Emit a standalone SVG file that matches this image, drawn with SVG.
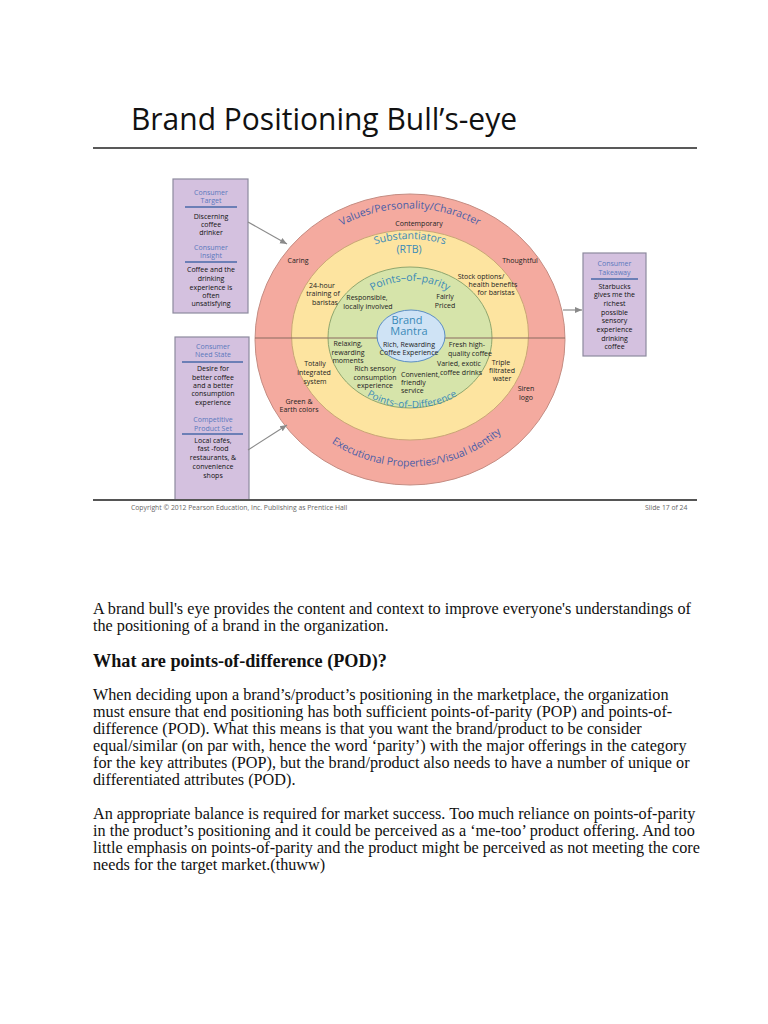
<svg xmlns="http://www.w3.org/2000/svg" width="768" height="1024" viewBox="0 0 768 1024">
<defs>
<style>
.lbl{font-family:"Open Sans","Liberation Sans",sans-serif;font-size:7px;fill:#222;text-anchor:middle}
.lbll{font-family:"Open Sans","Liberation Sans",sans-serif;font-size:7px;fill:#222;text-anchor:start}
.bx{font-family:"Open Sans","Liberation Sans",sans-serif;font-size:7px;fill:#111;text-anchor:middle}
.bh{font-family:"Open Sans","Liberation Sans",sans-serif;font-size:7px;fill:#5a78bd;text-anchor:middle}
.ring{font-family:"Open Sans","Liberation Sans",sans-serif;font-size:10.5px;fill:#4a5ea8}
.teal{font-family:"Open Sans","Liberation Sans",sans-serif;fill:#3a8ab8}
.body{font-family:"Liberation Serif","Times New Roman",serif;font-size:16.2px;fill:#111}
.box{fill:#d4c1df;stroke:#8d8a9e;stroke-width:1.2}
.uline{stroke:#4a68a8;stroke-width:1.5}
.conn{stroke:#8a8a8a;stroke-width:1.2;fill:none}
</style>
<marker id="ah" markerWidth="8" markerHeight="8" refX="7" refY="4" orient="auto" markerUnits="userSpaceOnUse">
<path d="M0,1 L7,4 L0,7 Z" fill="#8a8a8a"/>
</marker>
<path id="pValues" d="M272,339.5 A138,131 0 0 1 548,339.5"/>
<path id="pExec" d="M275,339.5 A135,127 0 0 0 545,339.5"/>
<path id="pSub" d="M305,335 A105,96 0 0 1 515,335"/>
<path id="pPop" d="M344,337.5 A66,56.5 0 0 1 476,337.5"/>
<path id="pPod" d="M332,337.5 A80,70.5 0 0 0 492,337.5"/>
</defs>
<rect width="768" height="1024" fill="#ffffff"/>

<g id="title">
<text x="131" y="130" font-family="'Open Sans','Liberation Sans',sans-serif" font-size="31" fill="#111" textLength="386" lengthAdjust="spacingAndGlyphs">Brand Positioning Bull’s-eye</text>
<line x1="93" y1="148" x2="697" y2="148" stroke="#222" stroke-width="1.5"/>
</g>

<g id="bullseye">
<ellipse cx="410" cy="339.5" rx="155" ry="145.5" fill="#f4aa9f" stroke="#c48c82" stroke-width="1"/>
<ellipse cx="410" cy="335" rx="118.5" ry="105" fill="#fde4a0" stroke="#c9a676" stroke-width="1"/>
<ellipse cx="410" cy="337.5" rx="82" ry="70.5" fill="#d6e4aa" stroke="#8fa66e" stroke-width="1"/>
<line x1="255" y1="338" x2="565" y2="338" stroke="#8a6a60" stroke-width="1.2"/>
<ellipse cx="411" cy="336" rx="34" ry="26" fill="#cfe3f5" stroke="#5b8ec5" stroke-width="1"/>
</g>

<g id="ring-labels">
<text class="ring"><textPath href="#pValues" startOffset="50%" text-anchor="middle">Values/Personality/Character</textPath></text>
<text class="ring" font-size="10"><textPath href="#pExec" startOffset="52%" text-anchor="middle">Executional Properties/Visual Identity</textPath></text>
<text class="teal" font-size="10.5"><textPath href="#pSub" startOffset="50%" text-anchor="middle">Substantiators</textPath></text>
<text class="teal" font-size="10.5" x="409" y="253" text-anchor="middle">(RTB)</text>
<text class="teal" font-size="10.5"><textPath href="#pPop" startOffset="50%" text-anchor="middle">Points–of–parity</textPath></text>
<text class="teal" font-size="9.8"><textPath href="#pPod" startOffset="50%" text-anchor="middle">Points–of–Difference</textPath></text>
</g>

<g id="mantra">
<text class="teal" font-size="11" x="407" y="324" text-anchor="middle">Brand</text>
<text class="teal" font-size="11" x="409" y="335" text-anchor="middle">Mantra</text>
<text class="lbl" x="409" y="346.5">Rich, Rewarding</text>
<text class="lbl" x="409" y="354.5">Coffee Experience</text>
</g>

<g id="values">
<text class="lbl" x="419" y="225.5">Contemporary</text>
<text class="lbl" x="298" y="262.5">Caring</text>
<text class="lbl" x="520" y="262.5">Thoughtful</text>
<text class="lbl" x="526" y="390.5">Siren</text>
<text class="lbl" x="526" y="399.5">logo</text>
<text class="lbl" x="299" y="403.5">Green &amp;</text>
<text class="lbl" x="299" y="411.5">Earth colors</text>
</g>

<g id="rtb">
<text class="lbl" x="322" y="287.5">24-hour</text>
<text class="lbl" x="323" y="295.5">training of</text>
<text class="lbl" x="325" y="304.5">baristas</text>
<text class="lbl" x="481" y="278.5">Stock options/</text>
<text class="lbl" x="493" y="286.5">health benefits</text>
<text class="lbl" x="496" y="294.5">for baristas</text>
<text class="lbl" x="315" y="365.5">Totally</text>
<text class="lbl" x="314" y="374.5">integrated</text>
<text class="lbl" x="315" y="383.5">system</text>
<text class="lbl" x="501" y="364.5">Triple</text>
<text class="lbl" x="502" y="372.5">filtrated</text>
<text class="lbl" x="502" y="380.5">water</text>
</g>

<g id="pop">
<text class="lbl" x="367" y="299.5">Responsible,</text>
<text class="lbl" x="368" y="308.5">locally involved</text>
<text class="lbl" x="445" y="298.5">Fairly</text>
<text class="lbl" x="445" y="307.5">Priced</text>
</g>

<g id="pod">
<text class="lbl" x="348" y="345.5">Relaxing,</text>
<text class="lbl" x="348" y="354.5">rewarding</text>
<text class="lbl" x="348" y="362.5">moments</text>
<text class="lbl" x="375" y="370.5">Rich sensory</text>
<text class="lbl" x="375" y="379.5">consumption</text>
<text class="lbl" x="375" y="387.5">experience</text>
<text class="lbl" x="467" y="346.5">Fresh high-</text>
<text class="lbl" x="470" y="355.5">quality coffee</text>
<text class="lbl" x="459" y="365.5">Varied, exotic</text>
<text class="lbl" x="461" y="374.5">coffee drinks</text>
<text class="lbll" x="401" y="377">Convenient,</text>
<text class="lbll" x="401" y="385">friendly</text>
<text class="lbll" x="401" y="393">service</text>
</g>

<g id="box-target">
<rect class="box" x="173" y="179" width="75" height="134"/>
<text class="bh" x="211" y="194.5">Consumer</text>
<text class="bh" x="211" y="202.5">Target</text>
<line class="uline" x1="185" y1="207" x2="237" y2="207"/>
<text class="bx" x="211" y="218.5">Discerning</text>
<text class="bx" x="211" y="226.5">coffee</text>
<text class="bx" x="211" y="234.5">drinker</text>
<text class="bh" x="211" y="249.5">Consumer</text>
<text class="bh" x="211" y="257.5">Insight</text>
<line class="uline" x1="185" y1="262" x2="237" y2="262"/>
<text class="bx" x="211" y="271.5">Coffee and the</text>
<text class="bx" x="211" y="280.5">drinking</text>
<text class="bx" x="211" y="289.5">experience is</text>
<text class="bx" x="211" y="297.5">often</text>
<text class="bx" x="211" y="305.5">unsatisfying</text>
</g>

<g id="box-need">
<rect class="box" x="175" y="337" width="74" height="163"/>
<text class="bh" x="213" y="348.5">Consumer</text>
<text class="bh" x="213" y="356.5">Need State</text>
<line class="uline" x1="182" y1="362" x2="243" y2="362"/>
<text class="bx" x="213" y="370.5">Desire for</text>
<text class="bx" x="213" y="379.5">better coffee</text>
<text class="bx" x="213" y="387.5">and a better</text>
<text class="bx" x="213" y="395.5">consumption</text>
<text class="bx" x="213" y="404.5">experience</text>
<text class="bh" x="213" y="421.5">Competitive</text>
<text class="bh" x="213" y="430.5">Product Set</text>
<line class="uline" x1="182" y1="434" x2="243" y2="434"/>
<text class="bx" x="213" y="442.5">Local cafés,</text>
<text class="bx" x="213" y="450.5">fast -food</text>
<text class="bx" x="213" y="459.5">restaurants, &amp;</text>
<text class="bx" x="213" y="468.5">convenience</text>
<text class="bx" x="213" y="477.5">shops</text>
</g>

<g id="box-takeaway">
<rect class="box" x="583" y="253" width="63" height="103"/>
<text class="bh" x="614.5" y="265.5">Consumer</text>
<text class="bh" x="614.5" y="274.5">Takeaway</text>
<line class="uline" x1="591" y1="279" x2="638" y2="279"/>
<text class="bx" x="614.5" y="288.5">Starbucks</text>
<text class="bx" x="614.5" y="296.5">gives me the</text>
<text class="bx" x="614.5" y="305.5">richest</text>
<text class="bx" x="614.5" y="314.5">possible</text>
<text class="bx" x="614.5" y="322.5">sensory</text>
<text class="bx" x="614.5" y="331.5">experience</text>
<text class="bx" x="614.5" y="340.5">drinking</text>
<text class="bx" x="614.5" y="348.5">coffee</text>
</g>

<g id="connectors">
<line class="conn" x1="248" y1="222" x2="287" y2="244" marker-end="url(#ah)"/>
<line class="conn" x1="248" y1="450" x2="287" y2="425" marker-end="url(#ah)"/>
<line class="conn" x1="563" y1="310" x2="582" y2="310" marker-end="url(#ah)"/>
</g>

<g id="footer">
<line x1="93" y1="500" x2="697" y2="500" stroke="#555" stroke-width="2"/>
<text x="131" y="510" font-family="'Open Sans','Liberation Sans',sans-serif" font-size="6.8" fill="#666">Copyright © 2012 Pearson Education, Inc. Publishing as Prentice Hall</text>
<text x="645" y="510" font-family="'Open Sans','Liberation Sans',sans-serif" font-size="6.8" fill="#666">Slide 17 of 24</text>
</g>

<g id="body-text">
<text class="body" x="93" y="614">A brand bull's eye provides the content and context to improve everyone's understandings of</text>
<text class="body" x="93" y="631">the positioning of a brand in the organization.</text>
<text x="93" y="667" font-family="'Liberation Serif','Times New Roman',serif" font-size="18.2" font-weight="bold" fill="#111">What are points-of-difference (POD)?</text>
<text class="body" x="93" y="700">When deciding upon a brand’s/product’s positioning in the marketplace, the organization</text>
<text class="body" x="93" y="717">must ensure that end positioning has both sufficient points-of-parity (POP) and points-of-</text>
<text class="body" x="93" y="734">difference (POD). What this means is that you want the brand/product to be consider</text>
<text class="body" x="93" y="751">equal/similar (on par with, hence the word ‘parity’) with the major offerings in the category</text>
<text class="body" x="93" y="768">for the key attributes (POP), but the brand/product also needs to have a number of unique or</text>
<text class="body" x="93" y="785">differentiated attributes (POD).</text>
<text class="body" x="93" y="819">An appropriate balance is required for market success. Too much reliance on points-of-parity</text>
<text class="body" x="93" y="836">in the product’s positioning and it could be perceived as a ‘me-too’ product offering. And too</text>
<text class="body" x="93" y="853">little emphasis on points-of-parity and the product might be perceived as not meeting the core</text>
<text class="body" x="93" y="870">needs for the target market.(thuww)</text>
</g>
</svg>
